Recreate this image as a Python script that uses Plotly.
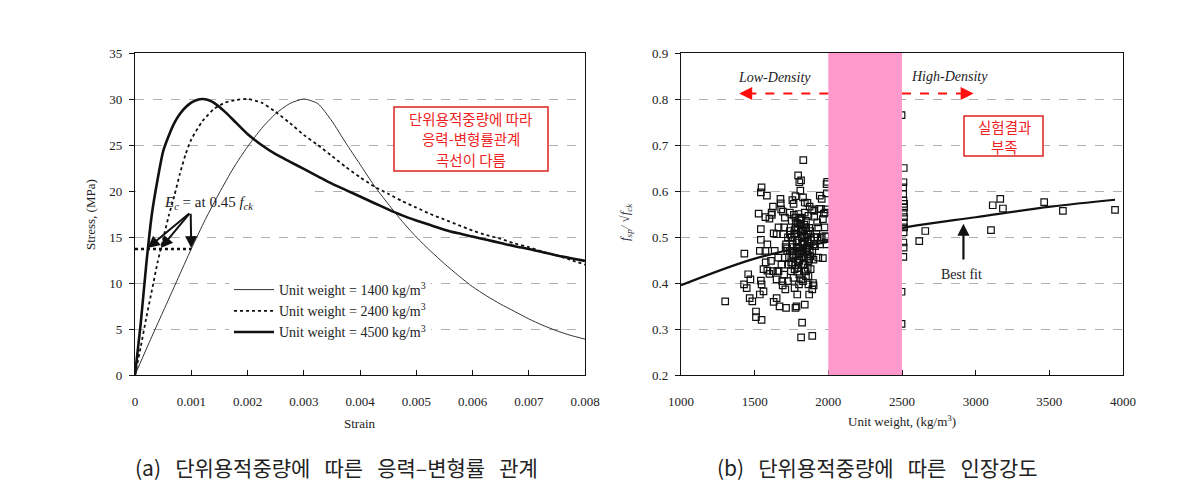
import plotly.graph_objects as go

# ---------------- data: (a) stress-strain ----------------
strain_1400 = [0, 0.00025, 0.0005, 0.00075, 0.001, 0.00125, 0.0015, 0.00175, 0.002, 0.00225,
               0.0025, 0.00275, 0.003, 0.00325, 0.0035, 0.00375, 0.004, 0.00425, 0.0045, 0.00475,
               0.005, 0.00525, 0.0055, 0.00575, 0.006, 0.00625, 0.0065, 0.00675, 0.007, 0.00725,
               0.0075, 0.00775, 0.008]
stress_1400 = [0, 3.5, 6.9, 10.3, 13.7, 16.9, 19.8, 22.5, 24.8, 26.8,
               28.4, 29.5, 30.0, 29.5, 27.6, 25.2, 22.9, 20.6, 18.6, 16.7,
               15.0, 13.5, 12.1, 10.8, 9.6, 8.6, 7.7, 6.9, 6.1, 5.4,
               4.8, 4.3, 3.9]

strain_2400 = [0, 0.0001, 0.0002, 0.0003, 0.0004, 0.0005, 0.0006, 0.0007, 0.0008, 0.0009,
               0.001, 0.0012, 0.0014, 0.0016, 0.0018, 0.002, 0.00225, 0.0025, 0.00275, 0.003,
               0.00325, 0.0035, 0.00375, 0.004, 0.00425, 0.0045, 0.00475, 0.005, 0.00525, 0.0055,
               0.00575, 0.006, 0.00625, 0.0065, 0.00675, 0.007, 0.00725, 0.0075, 0.00775, 0.008]
stress_2400 = [0, 3.0, 6.2, 9.2, 12.2, 14.8, 17.3, 19.5, 21.9, 24.0,
               25.6, 27.6, 28.9, 29.6, 29.9, 30.0, 29.6, 28.6, 27.4, 26.1,
               25.0, 23.8, 22.6, 21.5, 20.5, 19.7, 18.9, 18.2, 17.5, 16.9,
               16.3, 15.7, 15.2, 14.8, 14.3, 13.9, 13.4, 13.0, 12.5, 12.0]

strain_4500 = [0, 0.0001, 0.0002, 0.0003, 0.0004, 0.0005, 0.0006, 0.0007, 0.0008, 0.0009,
               0.001, 0.0011, 0.0012, 0.0013, 0.0014, 0.0016, 0.0018, 0.002, 0.00225, 0.0025,
               0.00275, 0.003, 0.00325, 0.0035, 0.00375, 0.004, 0.00425, 0.0045, 0.00475, 0.005,
               0.00525, 0.0055, 0.00575, 0.006, 0.00625, 0.0065, 0.00675, 0.007, 0.00725, 0.0075,
               0.00775, 0.008]
stress_4500 = [0, 5.5, 12.0, 17.5, 21.2, 24.3, 26.0, 27.4, 28.4, 29.1,
               29.6, 29.9, 30.0, 29.9, 29.6, 28.6, 27.4, 26.2, 25.0, 24.0,
               23.2, 22.4, 21.6, 20.8, 20.1, 19.4, 18.7, 18.0, 17.35, 16.8,
               16.3, 15.8, 15.4, 15.05, 14.7, 14.35, 14.0, 13.7, 13.35, 13.0,
               12.7, 12.4]

ec_level = 13.7          # 0.45 fck line
ec_arrow_from = (0.00099, 17.7)
ec_arrow_to = [0.000225, 0.00046, 0.00100]

series_names = ["Unit weight = 1400 kg/m<sup>3</sup>",
                "Unit weight = 2400 kg/m<sup>3</sup>",
                "Unit weight = 4500 kg/m<sup>3</sup>"]

# ---------------- data: (b) splitting strength ----------------
unit_weight = [1300, 1430, 1428, 1446, 1456, 1471, 1466, 1484, 1509, 1509, 1547, 1535, 1560, 1547, 1542,
               1535, 1542, 1542, 1527, 1542, 1547, 1583, 1573, 1586, 1573, 1586, 1611, 1624, 1636, 1629,
               1624, 1616, 1654, 1649, 1629, 1649, 1669, 1687, 1682, 1675, 1677, 1692, 1705, 1700, 1695,
               1713, 1705, 1708, 1713, 1731, 1739, 1739, 1756, 1764, 1777, 1795, 1803, 1815, 1830, 1810,
               1828, 1840, 1858, 1873, 1904, 1924, 1942, 1955, 1950, 1963, 1970, 1980, 1988, 1975, 1980,
               1988, 1963, 1919, 1904, 1891, 1899, 1896, 1891, 1870, 1865, 1840, 1822, 1815, 1891, 1784,
               1777, 1771, 1789, 1801, 1828, 1848, 1840,
               1739, 1751, 1756, 1751, 1764, 1756, 1771, 1777, 1782, 1789, 1795, 1789, 1803, 1797, 1808,
               1815, 1820, 1828, 1822, 1833, 1828, 1840, 1845, 1853, 1858, 1853, 1860, 1865, 1860, 1848,
               1878, 1883, 1873, 1777, 1797, 1815, 1840, 1865, 1726, 1721, 1733, 1746, 1764, 1803, 1815,
               1865, 1649, 1662, 1700, 1726, 1662, 1932, 1944, 1904, 1955, 1932, 1939, 1904,
               1760, 1785, 1810, 1835, 1870, 1795, 1820, 1850, 1768, 1812, 1838, 1802, 1790, 1826, 1855,
               1744, 1758, 1772, 1786, 1800, 1814, 1828, 1842, 1856, 1870, 1748, 1762, 1776, 1790, 1804,
               1818, 1832, 1846, 1860, 1874, 1752, 1766, 1780, 1794, 1808, 1822, 1836, 1850, 1864, 1878,
               1600, 1615, 1680, 1720, 1890, 1910, 1925, 1560, 1575, 1690, 1600, 1660, 1710, 1880, 1900,
               1992, 1990, 1993, 1991,
               2497, 2497, 2497,
               2512, 2510, 2508, 2508, 2510, 2514, 2514, 2511, 2514, 2512, 2514, 2511, 2509, 2511, 2509,
               2617, 2658, 3104, 3116, 3167, 3185, 3465, 3592, 3946]
fsp_ratio = [0.360, 0.464, 0.397, 0.389, 0.419, 0.408, 0.367, 0.360, 0.338, 0.326, 0.320, 0.375, 0.382, 0.397, 0.405,
             0.470, 0.494, 0.517, 0.551, 0.597, 0.608, 0.590, 0.543, 0.484, 0.470, 0.427, 0.448, 0.426, 0.470, 0.508,
             0.566, 0.548, 0.426, 0.408, 0.359, 0.367, 0.349, 0.404, 0.440, 0.583, 0.573, 0.555, 0.542, 0.521, 0.506,
             0.484, 0.455, 0.386, 0.346, 0.440, 0.470, 0.553, 0.580, 0.572, 0.589, 0.634, 0.619, 0.623, 0.667, 0.601,
             0.586, 0.575, 0.574, 0.566, 0.544, 0.532, 0.590, 0.583, 0.561, 0.539, 0.551, 0.553, 0.615, 0.521, 0.502,
             0.484, 0.454, 0.506, 0.499, 0.470, 0.451, 0.400, 0.386, 0.375, 0.397, 0.353, 0.314, 0.282, 0.285, 0.349,
             0.346, 0.389, 0.375, 0.397, 0.404, 0.415, 0.440,
             0.513, 0.499, 0.484, 0.470, 0.455, 0.440, 0.430, 0.521, 0.506, 0.492, 0.477, 0.462, 0.448, 0.433, 0.528,
             0.513, 0.499, 0.484, 0.470, 0.455, 0.440, 0.426, 0.521, 0.506, 0.492, 0.477, 0.462, 0.448, 0.433, 0.535,
             0.513, 0.495, 0.481, 0.542, 0.550, 0.542, 0.553, 0.546, 0.499, 0.470, 0.455, 0.426, 0.411, 0.418, 0.408,
             0.415, 0.506, 0.521, 0.418, 0.404, 0.426, 0.521, 0.484, 0.484, 0.499, 0.455, 0.561, 0.557,
             0.462, 0.488, 0.470, 0.503, 0.520, 0.445, 0.458, 0.468, 0.508, 0.537, 0.490, 0.475, 0.530, 0.515, 0.500,
             0.505, 0.492, 0.515, 0.478, 0.465, 0.525, 0.512, 0.498, 0.468, 0.452, 0.445, 0.460, 0.438, 0.425, 0.451,
             0.466, 0.441, 0.425, 0.489, 0.472, 0.535, 0.548, 0.530, 0.518, 0.540, 0.488, 0.527, 0.519, 0.507, 0.458,
             0.540, 0.553, 0.560, 0.475, 0.560, 0.480, 0.500, 0.430, 0.445, 0.395, 0.420, 0.455, 0.478, 0.430, 0.395,
             0.620, 0.595, 0.560, 0.500,
             0.765, 0.381, 0.311,
             0.650, 0.619, 0.608, 0.594, 0.579, 0.572, 0.564, 0.553, 0.543, 0.532, 0.521, 0.510, 0.488, 0.477, 0.457,
             0.491, 0.513, 0.515, 0.569, 0.583, 0.562, 0.576, 0.557, 0.559]

fit_weight = [1000, 1500, 2000, 2541, 3000, 3508, 3946]
fit_ratio = [0.395, 0.453, 0.490, 0.522, 0.543, 0.566, 0.581]

band_range = [2000, 2500]

# ---------------- figure ----------------
W, H = 1189, 497
OFF = 8   # page body margin
def px_x(p):
    return (p - OFF) / W
def px_y(p):
    return (H - (p - OFF)) / H

serif = "Liberation Serif"
kr = "Noto Sans CJK KR"
dark = "#222222"
red = "#EE2222"

fig = go.Figure()

fig.add_trace(go.Scatter(x=strain_1400, y=stress_1400, mode="lines", name=series_names[0],
                         line=dict(color="#333333", width=1, shape="spline", smoothing=0.6),
                         xaxis="x", yaxis="y"))
fig.add_trace(go.Scatter(x=strain_2400, y=stress_2400, mode="lines", name=series_names[1],
                         line=dict(color="#111111", width=1.8, dash="dot", shape="spline", smoothing=0.6),
                         xaxis="x", yaxis="y"))
fig.add_trace(go.Scatter(x=strain_4500, y=stress_4500, mode="lines", name=series_names[2],
                         line=dict(color="#111111", width=2.6, shape="spline", smoothing=0.6),
                         xaxis="x", yaxis="y"))

fig.add_trace(go.Scatter(x=unit_weight, y=fsp_ratio, mode="markers", showlegend=False,
                         marker=dict(symbol="square-open", size=6.5, color="#111111",
                                     line=dict(width=1.2, color="#111111")),
                         xaxis="x2", yaxis="y2"))
fig.add_trace(go.Scatter(x=fit_weight, y=fit_ratio, mode="lines", showlegend=False,
                         line=dict(color="#111111", width=2.2, shape="spline"),
                         xaxis="x2", yaxis="y2"))

ydom = [px_y(375), px_y(53)]
axis_common = dict(showline=True, linecolor="#111111", linewidth=1.3, mirror=True, automargin=False,
                   zeroline=False, tickfont=dict(family=serif, size=13, color=dark))

fig.update_layout(
    template="none",
    width=W, height=H,
    margin=dict(l=0, r=0, t=0, b=0, autoexpand=False),
    paper_bgcolor="white", plot_bgcolor="white",
    xaxis=dict(domain=[px_x(135), px_x(585)], range=[0, 0.008], dtick=0.001, tick0=0,
               ticks="inside", ticklen=5, tickcolor="#111111", showgrid=False,
               ticklabelstandoff=14, anchor="y", **axis_common),
    yaxis=dict(domain=ydom, range=[0, 35], dtick=5, ticks="outside", ticklen=5,
               tickcolor="#111111", showgrid=True, gridcolor="#b0b0b0", griddash="dash",
               gridwidth=1, ticklabelstandoff=4, anchor="x", **axis_common),
    xaxis2=dict(domain=[px_x(681), px_x(1123)], range=[1000, 4000], dtick=500, tick0=1000,
                tickformat="d", ticks="inside", ticklen=5, tickcolor="#111111", showgrid=False,
                ticklabelstandoff=14, anchor="y2", **axis_common),
    yaxis2=dict(domain=ydom, range=[0.2, 0.9], dtick=0.1, tick0=0.2, tickformat=".1f",
                ticks="outside", ticklen=5, tickcolor="#111111", showgrid=True,
                gridcolor="#b0b0b0", griddash="dash", gridwidth=1, ticklabelstandoff=4,
                anchor="x2", **axis_common),
    legend=dict(x=px_x(229), y=px_y(274), xanchor="left", yanchor="top",
                bgcolor="white", borderwidth=0, itemwidth=40, tracegroupgap=5,
                font=dict(family=serif, size=14, color=dark)),
    showlegend=True,
)

shapes = []
# white patch hiding the grid line behind the E_c label (as in source)
shapes.append(dict(type="rect", xref="x", yref="y", x0=0.00002, x1=0.00305, y0=19.7, y1=20.3,
                   fillcolor="white", line=dict(width=0), layer="between"))
# 0.45 fck dotted level line
shapes.append(dict(type="line", xref="x", yref="y", x0=0, x1=ec_arrow_to[-1], y0=ec_level, y1=ec_level,
                   line=dict(color="#111111", width=2.5, dash="dot"), layer="above"))
# pink band
shapes.append(dict(type="rect", xref="x2", yref="y2 domain", x0=band_range[0], x1=band_range[1], y0=0, y1=1,
                   fillcolor="#FF99CC", line=dict(width=0), layer="above"))
# red dashed arrows shafts
shapes.append(dict(type="line", xref="x2", yref="y2", x0=2000, x1=1430, y0=0.812, y1=0.812,
                   line=dict(color="#FF1010", width=2, dash="dash"), layer="above"))
shapes.append(dict(type="line", xref="x2", yref="y2", x0=2500, x1=2950, y0=0.812, y1=0.812,
                   line=dict(color="#FF1010", width=2, dash="dash"), layer="above"))
# red note frames
shapes.append(dict(type="rect", xref="paper", yref="paper", x0=px_x(394), x1=px_x(548),
                   y0=px_y(171), y1=px_y(107), fillcolor="white",
                   line=dict(color="#DD2222", width=1.5), layer="above"))
shapes.append(dict(type="rect", xref="paper", yref="paper", x0=px_x(964), x1=px_x(1043),
                   y0=px_y(156), y1=px_y(116), fillcolor="white",
                   line=dict(color="#DD2222", width=1.5), layer="above"))
fig.update_layout(shapes=shapes)

ann = []
# E_c arrows
for tx in ec_arrow_to:
    ann.append(dict(x=tx, y=ec_level + 0.1, xref="x", yref="y", ax=ec_arrow_from[0], ay=ec_arrow_from[1],
                    axref="x", ayref="y", showarrow=True, arrowhead=2, arrowsize=1.2, arrowwidth=2,
                    arrowcolor="#111111", text=""))
ann.append(dict(x=0.0013, y=18.7, xref="x", yref="y", showarrow=False, xanchor="center", yanchor="middle",
                text="<i>E<sub>c</sub></i> = at 0.45 <i>f<sub>ck</sub></i>",
                font=dict(family=serif, size=15, color=dark)))
# red note (a)
for txt, py in [("단위용적중량에 따라", 118.5), ("응력-변형률관계", 139), ("곡선이 다름", 159.5)]:
    ann.append(dict(x=px_x(471), y=px_y(py), xref="paper", yref="paper", showarrow=False,
                    xanchor="center", yanchor="middle", text=txt,
                    font=dict(family=kr, size=14.5, color=red)))
# red note (b)
for txt, py in [("실험결과", 126), ("부족", 146)]:
    ann.append(dict(x=px_x(1004), y=px_y(py), xref="paper", yref="paper", showarrow=False,
                    xanchor="center", yanchor="middle", text=txt,
                    font=dict(family=kr, size=14.5, color=red)))
# red arrowheads
ann.append(dict(x=1395, y=0.812, xref="x2", yref="y2", ax=1440, ay=0.812, axref="x2", ayref="y2",
                showarrow=True, arrowhead=2, arrowsize=1.3, arrowwidth=2, arrowcolor="#FF1010", text=""))
ann.append(dict(x=2986, y=0.812, xref="x2", yref="y2", ax=2940, ay=0.812, axref="x2", ayref="y2",
                showarrow=True, arrowhead=2, arrowsize=1.3, arrowwidth=2, arrowcolor="#FF1010", text=""))
ann.append(dict(x=1637, y=0.846, xref="x2", yref="y2", showarrow=False, xanchor="center", yanchor="middle",
                text="<i>Low-Density</i>", font=dict(family=serif, size=14, color=dark)))
ann.append(dict(x=2821, y=0.848, xref="x2", yref="y2", showarrow=False, xanchor="center", yanchor="middle",
                text="<i>High-Density</i>", font=dict(family=serif, size=14, color=dark)))
# best fit arrow
ann.append(dict(x=2917, y=0.529, xref="x2", yref="y2", ax=2917, ay=0.448, axref="x2", ayref="y2",
                showarrow=True, arrowhead=2, arrowsize=1.1, arrowwidth=2.2, arrowcolor="#111111", text=""))
ann.append(dict(x=2905, y=0.419, xref="x2", yref="y2", showarrow=False, xanchor="center", yanchor="middle",
                text="Best fit", font=dict(family=serif, size=14, color=dark)))
# axis titles
ann.append(dict(x=px_x(360), y=px_y(423), xref="paper", yref="paper", showarrow=False,
                xanchor="center", yanchor="middle", text="Strain",
                font=dict(family=serif, size=13, color=dark)))
ann.append(dict(x=px_x(91), y=px_y(215), xref="paper", yref="paper", showarrow=False,
                xanchor="center", yanchor="middle", text="Stress, (MPa)",
                textangle=-90, font=dict(family=serif, size=13, color=dark)))
ann.append(dict(x=px_x(902), y=px_y(421), xref="paper", yref="paper", showarrow=False,
                xanchor="center", yanchor="middle",
                text="Unit weight, (kg/m<sup>3</sup>)", font=dict(family=serif, size=13, color=dark)))
ann.append(dict(x=px_x(625), y=px_y(222), xref="paper", yref="paper", showarrow=False,
                xanchor="center", yanchor="middle",
                text="<i>f<sub>sp</sub>/ √f<sub>ck</sub></i>", textangle=-90,
                font=dict(family=serif, size=13, color="#333344")))
# captions
ann.append(dict(x=px_x(336), y=px_y(467), xref="paper", yref="paper", showarrow=False,
                xanchor="center", yanchor="middle",
                text="(a)   단위용적중량에   따른   응력–변형률   관계",
                font=dict(family=kr, size=21, color="#222222")))
ann.append(dict(x=px_x(877), y=px_y(467), xref="paper", yref="paper", showarrow=False,
                xanchor="center", yanchor="middle",
                text="(b)   단위용적중량에   따른   인장강도",
                font=dict(family=kr, size=21, color="#222222")))
fig.update_layout(annotations=ann)

fig.write_html("out.html")
